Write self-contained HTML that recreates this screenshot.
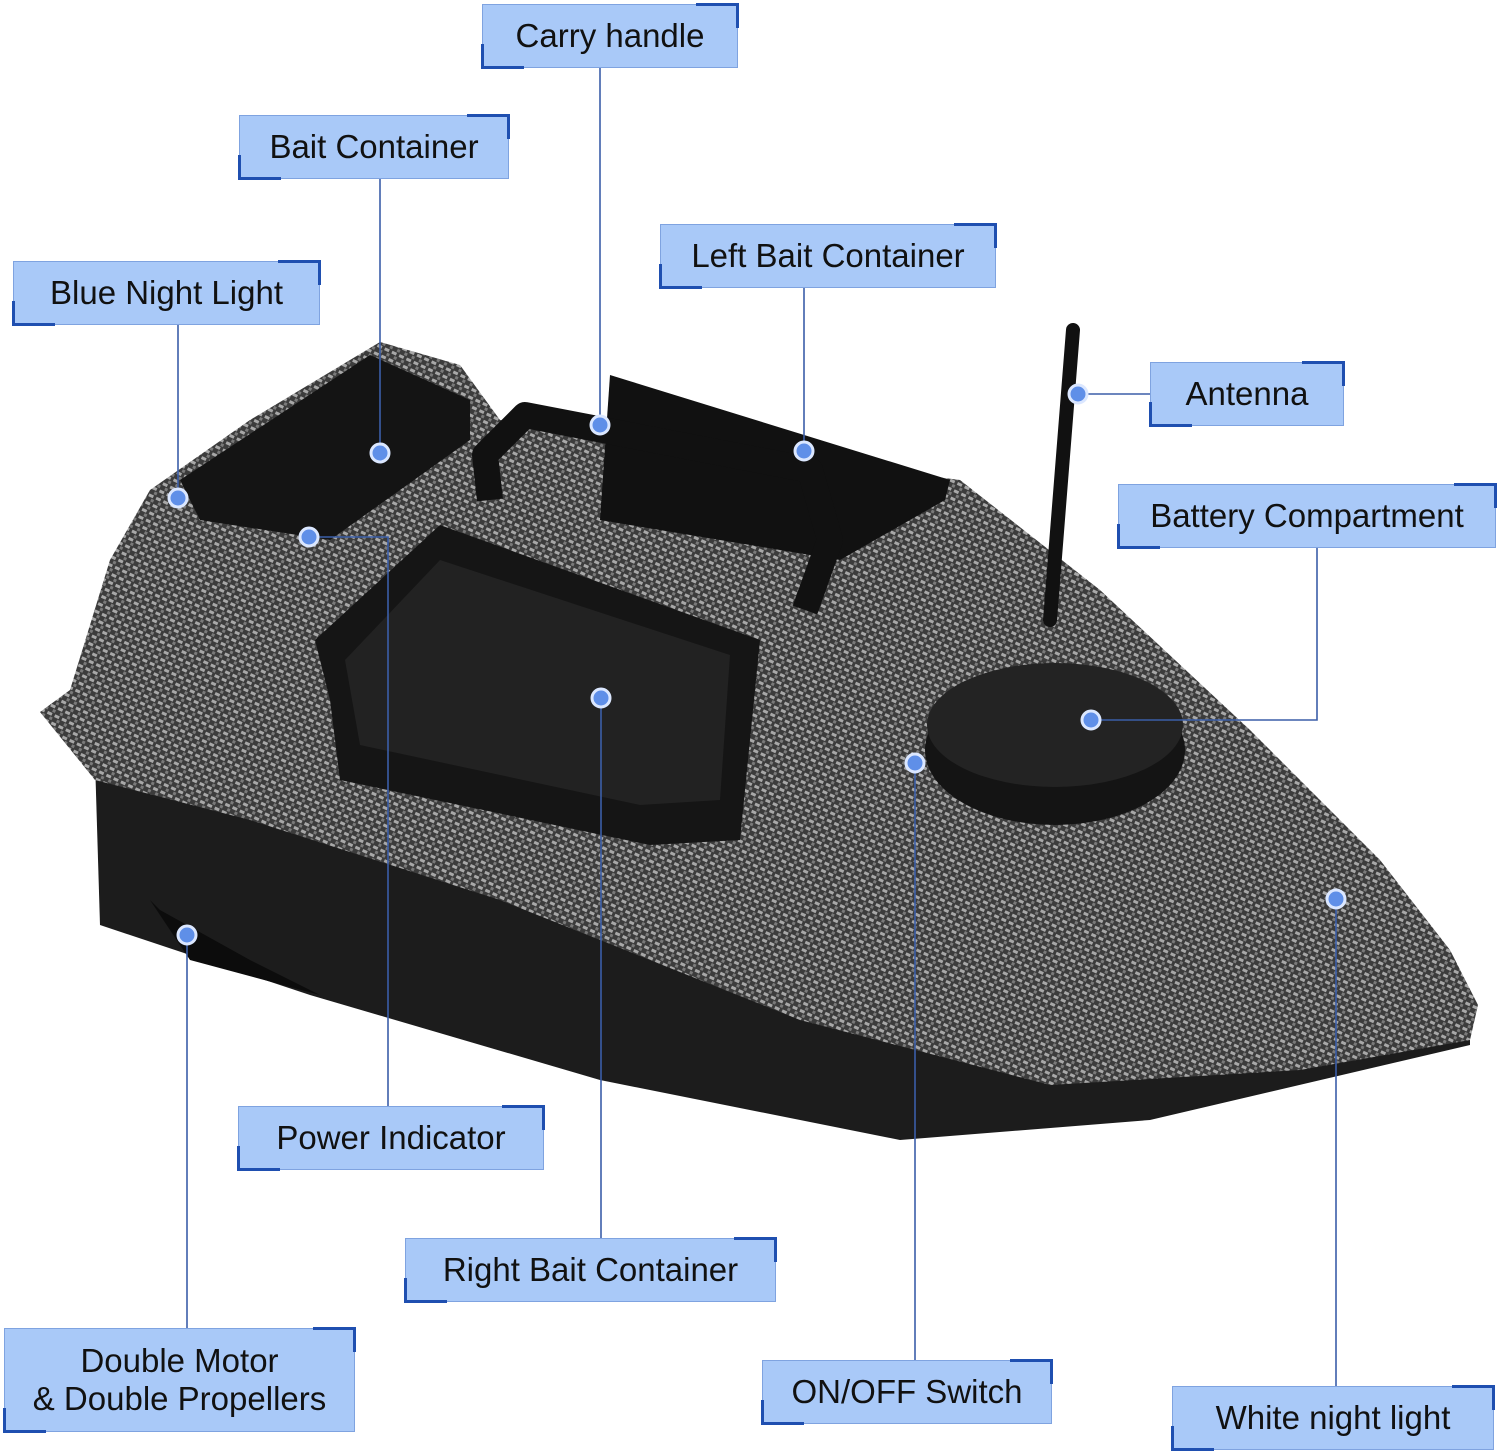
<!DOCTYPE html>
<html><head><meta charset="utf-8"><style>
html,body{margin:0;padding:0;background:#fff;}
body{width:1500px;height:1455px;position:relative;overflow:hidden;font-family:"Liberation Sans","DejaVu Sans",sans-serif;}
.l{position:absolute;background:#a9c9f8;border:1.5px solid #7fa3e0;box-sizing:border-box;color:#111;font-size:33px;text-align:center;display:flex;align-items:center;justify-content:center;line-height:38px;}
.l:before{content:"";position:absolute;right:-2px;top:-2px;width:40px;height:22px;border-top:3px solid #1f4fb0;border-right:3px solid #1f4fb0;}
.l:after{content:"";position:absolute;left:-2px;bottom:-2px;width:40px;height:22px;border-bottom:3px solid #1f4fb0;border-left:3px solid #1f4fb0;}
svg{position:absolute;left:0;top:0;}
</style></head><body>
<svg width="1500" height="1455" viewBox="0 0 1500 1455">
<defs>
<pattern id="cf" width="8" height="8" patternUnits="userSpaceOnUse" patternTransform="rotate(25)">
<rect width="8" height="8" fill="#3c3c3c"/>
<rect x="0" y="0" width="5" height="3" fill="#a8a8a8"/>
<rect x="4" y="4" width="3" height="3" fill="#7a7a7a"/>
</pattern>
</defs>
<polygon points="95,760 100,925 310,995 600,1080 900,1140 1150,1120 1470,1045 1470,1000" fill="#1c1c1c"/>
<polygon points="150,900 190,960 320,995 250,960 160,910" fill="#0c0c0c"/>
<polygon points="40,712 70,690 110,560 150,490 250,420 380,342 460,365 500,420 960,480 1100,590 1250,730 1380,860 1450,950 1478,1005 1470,1040 1300,1070 1050,1085 800,1020 500,900 250,820 95,780" fill="url(#cf)"/>
<polygon points="180,480 370,355 470,400 470,440 330,540 200,520" fill="#141414"/>
<polygon points="610,375 950,480 945,500 840,560 600,520" fill="#111"/>
<polyline points="490,500 485,455 525,415 810,470 830,540 805,610" fill="none" stroke="#111" stroke-width="26" stroke-linejoin="round"/>
<polygon points="315,640 440,525 760,640 740,840 650,845 340,780 330,700" fill="#151515"/>
<polygon points="345,660 440,560 730,655 720,800 640,805 360,745" fill="#222"/>
<ellipse cx="1055" cy="750" rx="130" ry="75" fill="#141414"/>
<ellipse cx="1055" cy="725" rx="128" ry="62" fill="#232323"/>
<line x1="1073" y1="330" x2="1050" y2="620" stroke="#111" stroke-width="14" stroke-linecap="round"/>
<g stroke="#3b5ea8" stroke-width="1.6" fill="none">
<line x1="600" y1="68" x2="600" y2="425"/>
<line x1="380" y1="179" x2="380" y2="453"/>
<line x1="178" y1="325" x2="178" y2="498"/>
<line x1="804" y1="288" x2="804" y2="451"/>
<line x1="1078" y1="394" x2="1150" y2="394"/>
<polyline points="1091,720 1317,720 1317,548"/>
<polyline points="309,537 388,537 388,1106"/>
<line x1="601" y1="698" x2="601" y2="1238"/>
<line x1="915" y1="763" x2="915" y2="1360"/>
<line x1="1336" y1="899" x2="1336" y2="1386"/>
<line x1="187" y1="935" x2="187" y2="1328"/>
</g>
<g fill="#5f8fe8" stroke="#dbe7ff" stroke-width="3">
<circle cx="600" cy="425" r="9"/><circle cx="380" cy="453" r="9"/><circle cx="178" cy="498" r="9"/>
<circle cx="804" cy="451" r="9"/><circle cx="1078" cy="394" r="9"/><circle cx="1091" cy="720" r="9"/>
<circle cx="309" cy="537" r="9"/><circle cx="601" cy="698" r="9"/><circle cx="915" cy="763" r="9"/>
<circle cx="1336" cy="899" r="9"/><circle cx="187" cy="935" r="9"/>
</g>
</svg>
<div class="l" style="left:482px;top:4px;width:256px;height:64px">Carry handle</div>
<div class="l" style="left:239px;top:115px;width:270px;height:64px">Bait Container</div>
<div class="l" style="left:13px;top:261px;width:307px;height:64px">Blue Night Light</div>
<div class="l" style="left:660px;top:224px;width:336px;height:64px">Left Bait Container</div>
<div class="l" style="left:1150px;top:362px;width:194px;height:64px">Antenna</div>
<div class="l" style="left:1118px;top:484px;width:378px;height:64px">Battery Compartment</div>
<div class="l" style="left:238px;top:1106px;width:306px;height:64px">Power Indicator</div>
<div class="l" style="left:405px;top:1238px;width:371px;height:64px">Right Bait Container</div>
<div class="l" style="left:4px;top:1328px;width:351px;height:104px">Double Motor<br>&amp; Double Propellers</div>
<div class="l" style="left:762px;top:1360px;width:290px;height:64px">ON/OFF Switch</div>
<div class="l" style="left:1172px;top:1386px;width:322px;height:64px">White night light</div>
</body></html>
